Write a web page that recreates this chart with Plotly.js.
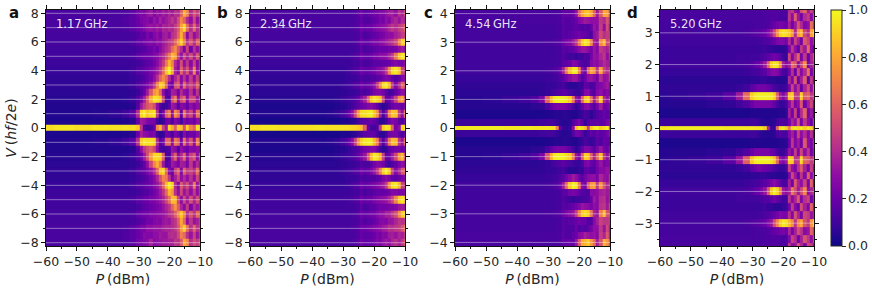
<!DOCTYPE html>
<html><head><meta charset="utf-8">
<script src="https://cdn.plot.ly/plotly-3.0.1.min.js"></script>
<style>html,body{margin:0;padding:0;background:#fff}#c{width:872px;height:294px}</style>
</head><body><div id="c"></div>
<script>
const powerDbm=[-60,-54,-48,-42,-37,-34,-32,-30,-29,-28,-27,-26,-25,-24,-23,-22,-21,-20,-19,-18,-17,-16,-15,-14,-13,-12,-11,-10];
const voltsAB=[8,7.5,7,6.5,6,5.5,5,4.5,4,3.5,3,2.5,2,1.5,1,.42,0,-.42,-1,-1.5,-2,-2.5,-3,-3.5,-4,-4.5,-5,-5.5,-6,-6.5,-7,-7.5,-8];
const voltsC=[4,3.75,3.5,3.25,3,2.75,2.5,2.25,2,1.75,1.5,1.25,1,.75,.5,.16,0,-.16,-.5,-.75,-1,-1.25,-1.5,-1.75,-2,-2.25,-2.5,-2.75,-3,-3.25,-3.5,-3.75,-4];
const voltsD=[3.75,3.5,3.25,3,2.75,2.5,2.25,2,1.75,1.5,1.25,1,.75,.5,.14,0,-.14,-.5,-.75,-1,-1.25,-1.5,-1.75,-2,-2.25,-2.5,-2.75,-3,-3.25,-3.5,-3.75];
const stepsAB=[8,7,6,5,4,3,2,1,-1,-2,-3,-4,-5,-6,-7,-8];
const stepsC=[4,3,2,1,-1,-2,-3,-4];
const stepsD=[3,2,1,-1,-2,-3];
const freqLabels=["1.17\u2009GHz","2.34\u2009GHz","4.54\u2009GHz","5.20\u2009GHz"];
const panelLetters=["a","b","c","d"];
const xTicks=[-60,-50,-40,-30,-20,-10];
const colorTicks=[0,.2,.4,.6,.8,1];

const panelA=[
[12,12,12,12,12,13,16,22,26,24,30,34,26,32,30,36,32,38,34,42,40,58,82,70,40,55,45,60],
[12,12,12,12,12,14,16,20,24,26,28,24,32,28,36,30,34,38,44,38,52,70,60,40,30,50,30,45],
[12,12,12,12,12,13,16,20,22,26,30,32,30,34,30,38,36,40,38,46,56,78,92,62,40,62,40,50],
[11,11,11,11,11,11,12,14,18,16,24,20,26,30,24,34,36,30,42,46,60,82,60,28,46,30,38,48],
[11,11,11,11,11,11,13,18,18,22,24,26,24,30,28,34,38,44,48,60,76,90,70,42,55,40,60,60],
[10,10,10,10,10,10,10,12,14,14,18,20,24,20,28,34,40,46,62,72,55,40,25,48,22,42,30,40],
[10,10,10,10,10,10,12,16,18,20,20,22,26,28,34,40,52,66,84,78,48,30,52,36,50,35,55,40],
[9,9,9,9,9,9,9,10,12,14,16,18,22,28,36,46,66,84,70,40,30,52,30,44,28,48,28,42],
[8,8,8,8,8,8,10,15,15,18,20,24,28,34,44,62,86,98,80,36,28,60,40,55,34,70,30,45],
[7,7,7,7,7,7,8,10,12,14,18,22,30,42,60,72,62,40,24,38,50,28,42,28,45,30,48,35],
[7,7,7,7,7,7,9,14,16,20,24,32,46,70,90,86,60,26,20,52,58,30,62,40,50,40,60,40],
[6,6,6,6,6,6,7,9,14,20,34,55,74,80,62,30,14,20,36,34,22,40,30,26,42,26,44,30],
[5,5,5,5,5,6,8,14,22,36,56,82,96,94,88,50,14,12,52,66,30,52,60,28,50,50,32,48],
[4,4,4,4,4,4,5,14,34,46,55,60,52,30,14,8,10,16,34,30,14,28,26,18,30,24,30,30],
[4,4,4,5,7,10,16,40,92,98,88,92,96,44,12,24,58,68,30,72,62,20,66,40,50,30,64,60],
[3,3,3,3,3,4,5,18,34,32,26,24,24,10,6,8,20,22,12,26,22,10,26,20,24,20,30,30],
[94,96,94,96,95,95,94,90,45,14,10,12,20,70,85,50,35,92,80,60,90,85,55,90,70,60,95,90],
[3,3,3,3,3,4,5,20,36,30,28,24,26,10,6,8,22,20,12,24,20,10,28,18,22,20,28,32],
[4,4,4,5,7,10,16,42,90,96,94,94,92,40,14,22,60,62,30,66,60,22,64,36,54,30,70,50],
[4,4,4,4,4,4,5,14,30,44,52,58,50,30,12,10,12,14,32,28,14,30,24,20,28,26,30,28],
[5,5,5,5,5,6,8,14,20,34,52,76,92,92,90,60,14,12,40,58,30,40,60,30,48,56,30,50],
[6,6,6,6,6,6,7,9,12,18,30,50,70,82,66,34,14,18,34,30,24,36,34,24,44,28,40,32],
[7,7,7,7,7,7,9,14,16,18,24,30,40,60,88,92,62,28,20,48,60,26,60,44,48,40,64,38],
[7,7,7,7,7,7,8,10,12,14,16,22,28,38,54,70,66,44,24,36,50,30,40,30,42,30,50,36],
[8,8,8,8,8,8,10,15,15,17,20,22,28,32,42,60,84,98,90,40,26,56,42,52,36,66,32,48],
[9,9,9,9,9,9,9,10,12,14,14,18,22,26,34,44,62,84,76,42,30,50,32,42,30,46,30,44],
[10,10,10,10,10,10,12,16,16,20,20,24,24,28,32,38,50,64,86,84,50,30,50,34,52,36,52,42],
[10,10,10,10,10,10,10,12,14,16,18,20,22,24,26,32,38,44,60,74,58,38,28,46,24,40,32,38],
[11,11,11,11,11,11,13,18,20,22,22,26,26,28,30,32,36,42,46,58,72,88,72,40,54,42,62,58],
[11,11,11,11,11,11,12,14,16,18,22,22,26,28,26,32,34,32,40,44,58,80,62,30,44,32,36,46],
[12,12,12,12,12,13,16,20,24,24,30,30,32,32,32,36,38,38,40,44,54,76,90,64,42,60,42,48],
[12,12,12,12,12,14,16,20,22,28,26,26,30,30,34,32,32,40,42,40,50,68,62,42,32,48,32,44],
[12,12,12,12,12,13,16,22,24,26,28,36,28,30,32,34,34,36,36,44,42,56,80,72,42,52,46,58]
];
const panelB=[
[12,12,12,12,12,12,12,12,12,12,13,14,16,22,16,18,20,22,22,26,26,30,34,36,30,42,36,50],
[12,12,12,12,12,12,12,12,12,12,12,13,14,19,14,14,16,18,20,24,22,30,26,34,38,32,40,38],
[12,12,12,12,12,12,12,12,12,12,13,14,15,21,18,20,20,24,26,28,30,32,38,44,40,46,50,60],
[11,11,11,11,11,11,11,11,11,11,12,12,13,18,12,14,16,18,20,22,24,28,30,30,36,40,46,48],
[11,11,11,11,11,11,11,11,11,11,12,13,15,21,18,18,22,24,24,28,30,34,38,42,50,70,90,92],
[10,10,10,10,10,10,10,10,10,10,10,11,12,17,12,14,14,16,18,20,20,20,22,22,24,30,34,30],
[10,10,10,10,10,10,10,10,10,11,12,14,15,21,18,18,20,24,24,28,28,30,36,44,66,88,96,92],
[9,9,9,9,9,9,9,9,9,9,10,11,11,15,12,12,14,16,16,16,18,18,20,24,26,24,22,30],
[8,8,8,8,8,8,8,8,9,10,12,14,15,21,18,18,20,22,26,28,32,44,70,92,96,88,50,44],
[7,7,7,7,7,7,7,7,8,8,9,9,10,14,12,12,14,14,16,18,22,26,24,18,14,18,26,30],
[7,7,7,7,7,7,7,8,9,10,12,14,15,21,18,20,22,30,46,70,92,96,84,46,26,40,60,52],
[6,6,6,6,6,6,6,7,7,8,8,9,10,14,12,14,18,24,26,26,22,16,10,12,18,24,30,28],
[5,5,5,5,5,5,6,8,9,10,12,14,18,26,36,60,88,96,92,86,50,18,20,30,48,72,80,50],
[3,3,3,3,3,3,4,5,6,8,10,14,16,20,22,26,28,24,18,10,6,8,14,20,22,22,18,26],
[4,4,4,4,4,5,7,10,14,20,30,50,76,92,94,96,98,88,74,36,12,30,70,88,86,46,30,64],
[2,2,2,2,2,2,2,3,3,4,5,6,10,14,16,18,20,18,14,6,6,10,20,26,24,16,12,24],
[94,96,95,95,96,95,95,95,94,94,92,92,90,86,60,20,12,10,14,46,90,96,94,60,24,30,90,96],
[2,2,2,2,2,2,2,3,3,4,5,6,10,12,16,18,18,18,12,6,6,10,22,24,24,18,12,22],
[4,4,4,4,4,5,7,10,14,20,28,48,74,90,96,98,96,84,70,34,14,32,66,86,84,44,32,60],
[3,3,3,3,3,3,4,5,6,8,10,12,14,18,22,24,26,26,20,10,6,8,16,20,22,22,20,24],
[5,5,5,5,5,5,6,8,9,10,12,14,18,24,32,56,84,98,94,84,48,18,20,34,50,76,86,54],
[6,6,6,6,6,6,6,7,7,8,8,9,10,14,12,12,16,22,26,26,22,14,10,14,18,24,30,26],
[7,7,7,7,7,7,7,8,9,10,12,14,15,21,18,20,24,32,44,66,90,98,88,48,28,38,56,60],
[7,7,7,7,7,7,7,7,8,8,9,9,10,14,12,14,14,14,16,18,24,28,24,18,16,20,24,28],
[8,8,8,8,8,8,8,8,9,10,12,14,15,21,18,20,22,24,26,30,34,46,74,94,96,84,48,46],
[9,9,9,9,9,9,9,9,9,9,10,11,11,15,12,14,14,16,18,18,18,20,22,26,26,24,24,28],
[10,10,10,10,10,10,10,10,10,11,12,14,15,21,18,20,20,24,26,28,30,32,38,48,70,90,96,88],
[10,10,10,10,10,10,10,10,10,10,10,11,12,17,12,14,16,16,20,22,22,22,24,24,26,32,34,32],
[11,11,11,11,11,11,11,11,11,11,12,13,15,21,18,20,22,22,26,30,30,36,36,44,52,72,88,94],
[11,11,11,11,11,11,11,11,11,11,12,12,13,18,14,16,16,20,22,26,28,26,32,32,38,44,42,46],
[12,12,12,12,12,12,12,12,12,12,13,14,15,21,20,22,24,26,28,30,34,36,42,40,44,46,54,66],
[12,12,12,12,12,12,12,12,12,12,12,13,14,19,16,16,18,20,24,22,28,26,34,36,32,38,36,44],
[12,12,12,12,12,12,12,12,12,12,13,14,16,22,18,20,20,22,26,24,30,34,30,38,42,36,44,56]
];
const panelC=[
[12,12,12,12,12,12,12,12,12,12,13,14,18,18,18,20,30,60,78,86,88,80,60,34,56,80,78,50],
[12,12,12,12,12,12,12,12,12,12,12,13,17,14,15,16,20,26,30,34,32,30,30,30,44,40,54,40],
[11,11,11,11,11,11,11,11,11,11,12,12,16,14,14,16,18,16,14,16,14,20,32,28,46,30,52,34],
[11,11,11,11,11,11,11,11,11,11,12,12,16,14,16,18,20,22,20,18,16,12,30,34,50,42,46,44],
[11,11,11,11,11,11,11,12,12,13,14,15,20,24,26,34,44,66,88,96,92,70,36,30,72,84,50,54],
[10,10,10,10,10,10,10,10,10,10,11,11,16,14,16,18,22,28,32,32,28,22,32,26,44,40,36,46],
[10,10,10,10,10,10,10,10,10,10,11,11,15,12,10,10,8,10,10,14,12,22,32,30,38,44,30,40],
[10,10,10,10,10,10,10,10,10,11,11,12,16,16,20,26,24,18,14,12,14,26,30,28,34,40,36,34],
[10,10,10,10,10,10,10,11,12,13,15,20,36,64,86,96,96,70,30,22,62,80,74,44,78,50,40,48],
[8,8,8,8,8,8,8,9,9,10,11,14,16,22,28,32,32,24,14,20,30,32,28,22,40,30,32,44],
[7,7,7,7,7,7,7,8,8,8,9,10,12,8,6,6,6,8,8,18,16,12,14,24,26,30,34,28],
[6,6,6,6,6,6,7,8,9,11,13,15,17,16,12,10,8,8,14,26,28,18,14,26,30,24,28,26],
[5,5,6,8,10,14,24,60,84,96,98,98,98,96,90,66,30,24,60,88,92,64,34,56,88,40,30,42],
[5,5,5,5,5,6,7,12,18,22,24,24,24,22,18,12,6,10,18,26,28,20,14,22,34,20,22,28],
[3,3,3,3,3,3,3,4,4,5,5,5,6,6,5,4,4,6,8,12,10,6,10,14,16,20,16,20],
[9,9,9,9,9,9,10,11,11,10,8,6,5,5,6,14,20,24,16,8,14,16,16,18,16,18,24,28],
[96,97,97,96,97,96,96,96,95,94,70,20,8,6,8,30,86,96,94,88,50,88,96,98,90,94,98,60],
[9,9,9,9,9,9,10,11,11,10,8,6,5,5,6,14,22,22,16,8,12,18,14,20,16,18,22,30],
[3,3,3,3,3,3,3,4,4,5,5,5,6,6,5,4,4,6,8,12,10,8,10,16,14,20,18,18],
[5,5,5,5,5,6,7,12,18,22,24,24,24,22,18,12,6,10,18,26,26,22,14,24,32,22,20,30],
[5,5,6,8,10,14,24,56,82,96,98,98,98,94,90,68,32,24,58,90,88,60,36,60,86,44,30,46],
[6,6,6,6,6,6,7,8,9,11,13,15,17,15,12,10,8,8,12,24,26,20,16,24,32,24,26,28],
[7,7,7,7,7,7,7,8,8,8,9,10,12,8,6,6,6,8,8,16,18,14,14,22,28,28,32,30],
[8,8,8,8,8,8,8,9,9,10,11,14,16,22,28,34,30,22,14,22,28,30,30,24,38,32,30,42],
[10,10,10,10,10,10,10,11,12,13,15,20,34,60,88,98,94,66,28,24,58,76,78,46,74,54,38,46],
[10,10,10,10,10,10,10,10,10,11,11,12,16,16,22,24,22,18,14,14,12,28,28,30,36,38,34,36],
[10,10,10,10,10,10,10,10,10,10,11,11,15,12,10,8,10,10,12,12,14,20,34,28,40,42,32,38],
[10,10,10,10,10,10,10,10,10,10,11,11,16,14,16,20,22,26,32,30,28,24,30,28,42,44,34,48],
[11,11,11,11,11,11,11,12,12,13,14,15,20,24,28,32,46,70,90,94,90,66,38,32,68,86,54,50],
[11,11,11,11,11,11,11,11,11,11,12,12,16,14,16,16,20,22,20,20,14,14,28,36,48,44,44,46],
[11,11,11,11,11,11,11,11,11,11,12,12,16,14,14,14,20,14,16,14,18,22,30,30,44,32,50,36],
[12,12,12,12,12,12,12,12,12,12,12,13,17,14,14,18,20,28,30,36,32,30,32,28,46,38,56,38],
[12,12,12,12,12,12,12,12,12,12,13,14,18,18,20,18,32,56,80,84,90,76,62,36,54,82,74,54]
];
const panelD=[
[12,12,12,12,12,12,12,12,12,13,13,13,14,14,14,14,12,12,14,40,46,30,24,52,60,34,48,36],
[12,12,12,12,12,12,12,12,12,12,12,13,13,14,14,14,12,12,12,44,30,58,34,22,40,46,28,52],
[11,11,11,11,11,11,11,11,12,12,12,13,14,16,20,22,24,22,20,36,22,34,54,40,26,30,64,44],
[11,11,11,11,11,11,12,14,15,16,17,20,26,34,50,72,90,94,92,88,76,40,74,84,50,40,78,88],
[10,10,10,10,10,10,10,10,10,11,11,13,14,16,20,24,26,26,22,40,24,48,36,22,56,48,30,40],
[9,9,9,9,9,9,9,9,9,9,9,10,8,8,7,6,6,6,8,24,44,30,18,46,34,62,30,20],
[9,9,9,9,9,10,10,10,10,11,12,14,16,20,22,20,16,10,8,50,26,42,60,24,44,20,38,54],
[10,10,10,10,10,11,12,14,18,20,24,34,60,90,96,94,76,36,28,34,62,56,30,48,72,26,36,44],
[8,8,8,8,8,8,9,10,11,12,14,16,22,26,28,26,20,12,10,22,42,20,50,28,40,64,24,42],
[6,6,6,6,6,6,6,7,7,7,8,8,7,6,6,5,5,5,6,40,26,54,22,36,58,18,46,28],
[7,7,7,7,7,8,10,16,20,22,22,22,20,16,12,10,8,8,10,24,48,30,44,20,38,52,30,60],
[6,7,8,10,16,34,62,90,96,98,98,98,98,96,90,60,34,26,36,86,90,46,44,90,56,60,44,50],
[5,5,5,6,7,10,14,20,24,24,24,24,24,22,18,12,8,8,12,28,44,24,30,56,22,36,50,26],
[3,3,3,3,3,3,3,4,4,4,4,4,4,4,4,4,5,5,6,36,22,48,20,40,60,24,34,18],
[9,9,9,9,9,9,9,10,10,8,6,5,5,5,6,10,14,14,12,22,38,30,52,24,44,30,20,46],
[96,97,97,97,96,96,96,96,95,95,95,90,40,10,8,60,94,96,90,70,94,96,92,96,90,96,92,60],
[9,9,9,9,9,9,9,10,10,8,6,5,5,5,6,12,14,12,12,26,36,24,48,30,40,26,42,22],
[3,3,3,3,3,3,3,4,4,4,4,4,4,4,4,4,5,5,6,20,44,26,34,22,56,30,24,40],
[5,5,5,6,7,10,14,20,24,24,24,24,24,20,18,12,8,8,14,32,24,46,26,50,30,44,22,36],
[6,7,8,10,16,32,58,88,96,98,98,98,98,94,88,62,32,26,34,90,88,44,46,92,60,56,46,52],
[7,7,7,7,7,8,10,16,20,22,22,20,18,16,12,10,8,8,12,48,30,24,42,56,36,22,48,30],
[6,6,6,6,6,6,6,7,7,7,8,8,7,6,6,5,5,5,6,24,50,34,20,44,26,58,30,46],
[8,8,8,8,8,8,9,10,11,12,14,16,20,24,28,24,18,12,12,36,22,56,38,30,48,24,60,28],
[10,10,10,10,10,11,12,14,18,20,24,32,56,88,98,92,72,34,30,36,66,52,34,50,70,30,38,46],
[9,9,9,9,9,10,10,10,10,11,12,14,14,18,22,18,14,10,10,44,28,38,56,26,42,48,22,36],
[9,9,9,9,9,9,9,9,9,9,9,10,8,8,7,6,6,8,10,22,46,28,20,52,36,26,60,34],
[10,10,10,10,10,10,10,10,10,11,11,13,14,16,20,22,26,24,24,42,26,54,38,24,50,46,32,38],
[11,11,11,11,11,11,12,14,15,16,17,20,26,32,52,70,88,96,94,84,72,44,70,80,54,44,74,90],
[11,11,11,11,11,11,11,11,12,12,12,13,14,16,18,20,22,24,20,38,24,36,52,44,28,32,60,46],
[12,12,12,12,12,12,12,12,12,12,12,13,13,14,14,14,14,12,14,26,48,40,22,36,54,44,30,50],
[12,12,12,12,12,12,12,12,12,13,13,13,14,14,14,14,12,14,12,44,28,32,56,40,24,50,46,30]
];

const plasma=[[0,"#0d0887"],[.1,"#41049d"],[.2,"#6a00a8"],[.3,"#8f0da4"],[.4,"#b12a90"],[.5,"#cc4778"],[.6,"#e16462"],[.7,"#f2844b"],[.8,"#fca636"],[.9,"#fcce25"],[1,"#f0f921"]];
const W=872,H=294,ink="#262626",FONT="'DejaVu Sans',sans-serif";
const boxes=[[46,200],[250,405],[455,610],[660,814]];
const letterOffsets=[38,34,32,34];
const plotTop=10,plotBottom=246;
const panels=[
 {z:panelA,y:voltsAB,steps:stepsAB,range:[-8.23,8.23],dtick:2,minor:1},
 {z:panelB,y:voltsAB,steps:stepsAB,range:[-8.23,8.23],dtick:2,minor:1},
 {z:panelC,y:voltsC,steps:stepsC,range:[-4.125,4.125],dtick:1,minor:.5},
 {z:panelD,y:voltsD,steps:stepsD,range:[-3.72,3.72],dtick:1,minor:.5}
];
const data=[],layout={width:W,height:H,margin:{l:0,r:0,t:0,b:0},paper_bgcolor:"#fff",plot_bgcolor:"#fff",showlegend:false,
 font:{family:FONT,size:12.5,color:ink},annotations:[]};
panels.forEach((p,i)=>{
 const n=i?String(i+1):"",xa="x"+n,ya="y"+n;
 data.push({type:"heatmap",x:powerDbm,y:p.y,z:p.z.map(r=>r.map(v=>v/100)),zmin:0,zmax:1,colorscale:plasma,xaxis:xa,yaxis:ya,
  hoverinfo:"skip",showscale:i===3,
  colorbar:{x:831/W,xanchor:"left",xpad:0,ypad:0,y:(H-plotTop)/H,yanchor:"top",len:(plotBottom-plotTop)/H,lenmode:"fraction",thickness:11,
   outlinewidth:1,outlinecolor:ink,tickvals:colorTicks,tickformat:".1f",ticks:"outside",ticklen:3.5,tickwidth:1,tickcolor:ink,tickfont:{size:12.5,color:ink}}});
 p.steps.forEach(v=>data.push({type:"scatter",mode:"lines",x:[powerDbm[0],powerDbm[powerDbm.length-1]],y:[v,v],xaxis:xa,yaxis:ya,
  line:{color:"rgba(255,255,255,0.42)",width:1},hoverinfo:"skip"}));
 const axisCommon={showgrid:false,zeroline:false,showline:true,linecolor:"#111",linewidth:1.4,mirror:"allticks",ticks:"outside",ticklen:3.5,tickwidth:1,tickcolor:"#111",tickfont:{size:12.5,color:ink}};
 layout["xaxis"+n]=Object.assign({},axisCommon,{domain:[boxes[i][0]/W,boxes[i][1]/W],range:[-60,-10],anchor:ya,tickvals:xTicks,
  minor:{dtick:5,ticks:"outside",ticklen:2,tickwidth:1,tickcolor:"#111",showgrid:false},
  title:{text:"<i>P</i>\u2009(dBm)",font:{size:14,color:ink},standoff:6}});
 layout["yaxis"+n]=Object.assign({},axisCommon,{domain:[(H-plotBottom)/H,(H-plotTop)/H],range:p.range,anchor:xa,dtick:p.dtick,tick0:0,
  minor:{dtick:p.minor,ticks:"outside",ticklen:2,tickwidth:1,tickcolor:"#111",showgrid:false},
  title:i===0?{text:"<i>V</i>\u2009(<i>hf</i>/2<i>e</i>)",font:{size:14,color:ink},standoff:0}:undefined});
 layout.annotations.push({xref:"paper",yref:"paper",x:(boxes[i][0]-letterOffsets[i])/W,y:(H-13)/H,xanchor:"left",yanchor:"middle",showarrow:false,xshift:-1,
  text:"<b>"+panelLetters[i]+"</b>",font:{size:15,color:"#111"}});
 layout.annotations.push({xref:"paper",yref:"paper",x:(boxes[i][0]+8)/W,y:(H-24)/H,xanchor:"left",yanchor:"middle",showarrow:false,
  text:freqLabels[i],font:{size:11.5,color:"rgba(255,255,255,0.9)"}});
});
Plotly.newPlot("c",data,layout,{displayModeBar:false,staticPlot:true});
</script></body></html>
